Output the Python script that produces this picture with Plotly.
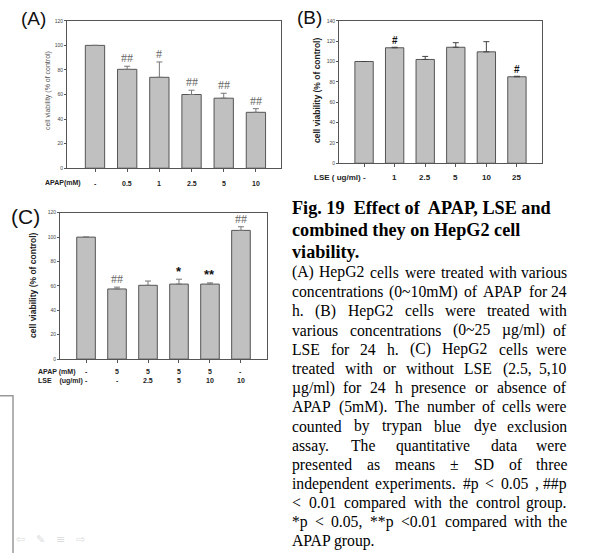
import plotly.graph_objects as go

W, H = 603, 556

# ---------------- data ----------------
a_labels = ["-", "0.5", "1", "2.5", "5", "10"]
a_values = [100, 80.5, 74, 60, 57, 45.5]
a_err = [0, 2.5, 12.5, 3.5, 4, 3]
a_sig = ["", "##", "#", "##", "##", "##"]

b_labels = ["-", "1", "2.5", "5", "10", "25"]
b_values = [100, 113.5, 102, 114, 109.5, 85]
b_err = [0, 0.5, 3, 4.5, 10, 0.5]
b_sig = ["", "#", "", "", "", "#"]

c_apap = ["-", "5", "5", "5", "5", "-"]
c_lse = ["-", "-", "2.5", "5", "10", "10"]
c_values = [100, 57.5, 60.5, 61.5, 61.5, 105.5]
c_err = [0, 1.5, 3.5, 4, 1, 3]
c_sig = ["", "##", "", "*", "**", "##"]

# ---------------- helpers ----------------
def px(x):
    return x / W

def py(y):
    return 1 - y / H

fig = go.Figure()

BAR_FILL = "#c0c0c0"
BAR_LINE = "#555555"
AXIS_COL = "#555555"
SANS = "Liberation Sans, Arial, sans-serif"
SERIF = "Liberation Serif, Times New Roman, serif"

panels = [
    dict(key="", vals=a_values, err=a_err, xdom=(67, 281), ydom=(167, 18), yr=120,
         xr=[-0.87, 5.78], errcol="#777777"),
    dict(key="2", vals=b_values, err=b_err, xdom=(339, 542), ydom=(162, 18), yr=140,
         xr=[-0.82, 5.82], errcol="#444444"),
    dict(key="3", vals=c_values, err=c_err, xdom=(60, 267), ydom=(360, 212), yr=120,
         xr=[-0.84, 5.84], errcol="#777777"),
]

layout_axes = {}
for p in panels:
    k = p["key"]
    n = len(p["vals"])
    fig.add_trace(go.Bar(
        x=list(range(n)), y=p["vals"], width=0.6,
        marker=dict(color=BAR_FILL, line=dict(color=BAR_LINE, width=1)),
        error_y=dict(type="data", symmetric=False, array=p["err"],
                     arrayminus=[0] * n, color=p["errcol"], thickness=1, width=3),
        xaxis="x" + k, yaxis="y" + k, showlegend=False, hoverinfo="skip",
    ))
    layout_axes["xaxis" + k] = dict(
        domain=[px(p["xdom"][0]), px(p["xdom"][1])], range=p["xr"],
        anchor="y" + k, showline=True, linecolor=AXIS_COL, linewidth=1, mirror=True,
        showgrid=False, zeroline=False, tickmode="array", tickvals=list(range(n)),
        ticktext=[""] * n, ticks="outside", ticklen=3, tickcolor=AXIS_COL,
    )
    layout_axes["yaxis" + k] = dict(
        domain=[py(p["ydom"][0]), py(p["ydom"][1])], range=[0, p["yr"]],
        anchor="x" + k, showline=True, linecolor=AXIS_COL, linewidth=1, mirror=True,
        showgrid=False, zeroline=False, dtick=20, ticks="outside", ticklen=2,
        tickcolor=AXIS_COL, tickfont=dict(family=SANS, size=5, color="#444444"),
    )

fig.update_layout(**layout_axes)

ann = []

# panel letters
for txt, x, y, sz in [("(A)", 33, 16, 19), ("(B)", 309, 15, 19), ("(C)", 25, 216, 21)]:
    ann.append(dict(text=txt, x=px(x), y=py(y), xref="paper", yref="paper",
                    showarrow=False, font=dict(family=SANS, size=sz, color="#111111")))

# y-axis titles
ann.append(dict(text="cell viability (% of control)", x=px(48), y=py(89), xref="paper",
                yref="paper", showarrow=False, textangle=-90,
                font=dict(family=SANS, size=7, color="#555555")))
ann.append(dict(text="<b>cell viability (% of control)</b>", x=px(317), y=py(89),
                xref="paper", yref="paper", showarrow=False, textangle=-90,
                font=dict(family=SANS, size=8.5, color="#222222")))
ann.append(dict(text="<b>cell viability (% of control)</b>", x=px(33), y=py(286),
                xref="paper", yref="paper", showarrow=False, textangle=-90,
                font=dict(family=SANS, size=8.5, color="#222222")))

# x tick labels
for i, t in enumerate(a_labels):
    ann.append(dict(text="<b>%s</b>" % t, x=i, y=py(182), xref="x", yref="paper",
                    showarrow=False, font=dict(family=SANS, size=7, color="#222222")))
ann.append(dict(text="<b>APAP(mM)</b>", x=px(63), y=py(182), xref="paper", yref="paper",
                showarrow=False, font=dict(family=SANS, size=7, color="#222222")))
for i, t in enumerate(b_labels):
    ann.append(dict(text="<b>%s</b>" % t, x=i, y=py(176), xref="x2", yref="paper",
                    showarrow=False, font=dict(family=SANS, size=8, color="#222222")))
ann.append(dict(text="<b>LSE ( ug/ml)</b>", x=px(337), y=py(176), xref="paper",
                yref="paper", showarrow=False,
                font=dict(family=SANS, size=8, color="#222222")))
for i, (t1, t2) in enumerate(zip(c_apap, c_lse)):
    ann.append(dict(text="<b>%s</b>" % t1, x=i, y=py(373), xref="x3", yref="paper",
                    showarrow=False, font=dict(family=SANS, size=7, color="#222222")))
    ann.append(dict(text="<b>%s</b>" % t2, x=i, y=py(382), xref="x3", yref="paper",
                    showarrow=False, font=dict(family=SANS, size=7, color="#222222")))
ann.append(dict(text="<b>APAP (mM)</b>", x=px(36), y=py(373), xref="paper", yref="paper",
                xanchor="left", showarrow=False,
                font=dict(family=SANS, size=7, color="#222222")))
ann.append(dict(text="<b>LSE&nbsp;&nbsp;&nbsp; (ug/ml)</b>", x=px(36), y=py(382),
                xref="paper", yref="paper", xanchor="left", showarrow=False,
                font=dict(family=SANS, size=7, color="#222222")))

# significance marks
def sig_ann(sigs, vals, errs, xr, yr):
    for i, s in enumerate(sigs):
        if not s:
            continue
        if "*" in s:
            font = dict(family=SANS, size=13, color="#111111")
            txt = "<b>%s</b>" % s
            shift = 8
        elif xr == "x2":
            font = dict(family=SANS, size=10, color="#111111")
            txt = "<b>%s</b>" % s
            shift = 7
        else:
            font = dict(family=SERIF, size=12, color="#666666")
            txt = s
            shift = 8
        ann.append(dict(text=txt, x=i, y=vals[i] + errs[i], xref=xr, yref=yr,
                        yshift=shift, showarrow=False, font=font))

sig_ann(a_sig, a_values, a_err, "x", "y")
sig_ann(b_sig, b_values, b_err, "x2", "y2")
sig_ann(c_sig, c_values, c_err, "x3", "y3")

# ---------------- caption text ----------------
TW = {' ': 250, '!': 333, '#': 500, '(': 333, ')': 333, '*': 500, '+': 564, ',': 250,
      '-': 333, '.': 250, '/': 278, ':': 278, ';': 278, '<': 564, '=': 564, '>': 564,
      '~': 541, '±': 564, 'µ': 500,
      'A': 722, 'B': 667, 'C': 667, 'D': 722, 'E': 611, 'F': 556, 'G': 722, 'H': 722,
      'I': 333, 'J': 389, 'K': 722, 'L': 611, 'M': 889, 'N': 722, 'O': 722, 'P': 556,
      'Q': 722, 'R': 667, 'S': 556, 'T': 611, 'U': 722, 'V': 722, 'W': 944, 'X': 722,
      'Y': 722, 'Z': 611,
      'a': 444, 'b': 500, 'c': 444, 'd': 500, 'e': 444, 'f': 333, 'g': 500, 'h': 500,
      'i': 278, 'j': 278, 'k': 500, 'l': 278, 'm': 778, 'n': 500, 'o': 500, 'p': 500,
      'q': 500, 'r': 333, 's': 389, 't': 278, 'u': 500, 'v': 500, 'w': 722, 'x': 500,
      'y': 500, 'z': 444}
for d in "0123456789":
    TW[d] = 500

def wwidth(word, fs):
    return sum(TW.get(ch, 500) for ch in word) * fs / 1000.0

title_lines = ["Fig. 19  Effect of  APAP, LSE and", "combined they on HepG2 cell",
               "viability."]
title_y = [207.7, 229.3, 251.7]
body_lines = [
    "(A) HepG2 cells were treated with various",
    "concentrations (0~10mM) of APAP for 24",
    "h.  (B) HepG2 cells were treated with",
    "various concentrations (0~25 µg/ml) of",
    "LSE for 24 h. (C) HepG2 cells were",
    "treated with or without LSE (2.5, 5,10",
    "µg/ml) for 24 h presence or absence of",
    "APAP (5mM).  The number of cells  were",
    "counted by trypan blue dye exclusion",
    "assay.   The quantitative data were",
    "presented as means ± SD of three",
    "independent experiments. #p < 0.05 , ##p",
    "< 0.01 compared with the control group.",
    "*p < 0.05, **p <0.01 compared with the",
    "APAP group.",
]
body_y = [272.3, 291.7, 311, 331, 350, 369.5, 389, 408.3, 427.7, 447.7, 466.7, 486,
          505, 524.3, 544]

LX, RX = 291, 568
for t, y in zip(title_lines, title_y):
    ann.append(dict(text="<b>%s</b>" % t.replace("  ", "&nbsp; "), x=px(LX), y=py(y),
                    xref="paper", yref="paper", xanchor="left", showarrow=False,
                    borderpad=0, font=dict(family=SERIF, size=18.2, color="#000000")))

FS = 15.7
for idx, (t, y) in enumerate(zip(body_lines, body_y)):
    words = t.split()
    if idx == len(body_lines) - 1:
        ann.append(dict(text=t, x=px(LX), y=py(y), xref="paper", yref="paper",
                        xanchor="left", showarrow=False, borderpad=0,
                        font=dict(family=SERIF, size=FS, color="#000000")))
        continue
    widths = [wwidth(w, FS) for w in words]
    gap = (RX - LX - sum(widths)) / (len(words) - 1)
    xpos = LX
    for j, (w, ww) in enumerate(zip(words, widths)):
        last = j == len(words) - 1
        ann.append(dict(text=w, x=px(RX if last else xpos), y=py(y), xref="paper",
                        yref="paper", xanchor="right" if last else "left",
                        showarrow=False, borderpad=0,
                        font=dict(family=SERIF, size=FS, color="#000000")))
        xpos += ww + gap

# faint slide navigation icons
for sym, x in [("⇦", 20), ("✎", 40), ("≡", 60), ("⇨", 80)]:
    ann.append(dict(text=sym, x=px(x), y=py(542), xref="paper", yref="paper",
                    showarrow=False, font=dict(family="DejaVu Sans", size=11,
                                               color="#dddddd")))

for a in ann:
    a.setdefault("xanchor", "center")
    a.setdefault("yanchor", "middle")

shapes = [dict(type="path", path="M 0 %f L %f %f L %f 0" % (py(397), px(13), py(397), px(13)),
               xref="paper", yref="paper", line=dict(color="#999999", width=1.5))]

fig.update_layout(
    width=W, height=H, autosize=False,
    margin=dict(l=0, r=0, t=0, b=0),
    paper_bgcolor="white", plot_bgcolor="white",
    annotations=ann, shapes=shapes, bargap=0.4, hovermode=False,
)

fig.write_html("out.html", config={"displayModeBar": False, "staticPlot": True},
               post_script="document.body.style.margin='0';document.body.style.overflow='hidden';")
